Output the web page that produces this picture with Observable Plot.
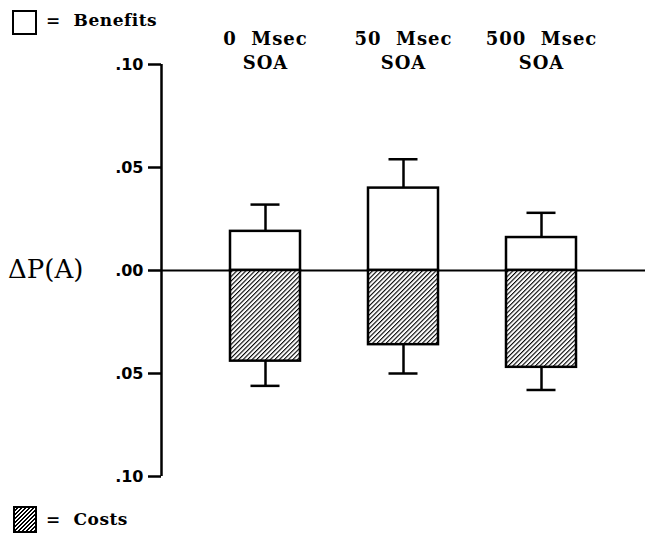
<!DOCTYPE html>
<html>
<head>
<meta charset="utf-8">
<script src="https://cdn.jsdelivr.net/npm/d3@7"></script>
<script src="https://cdn.jsdelivr.net/npm/@observablehq/plot@0.6"></script>
<style>
  html, body { margin: 0; padding: 0; background: #fff; }
  #wrap { position: relative; width: 645px; height: 539px; }
  .lg { position: absolute; font-family: "DejaVu Serif", serif; font-weight: bold; font-size: 17px; letter-spacing: 0.5px; color: #000; white-space: pre; }
  .box { position: absolute; border: 2.5px solid #000; background: #fff; box-sizing: border-box; }
  .hbox { background: repeating-linear-gradient(-45deg, #000 0 1.2px, #fff 1.2px 2.8px); }
  .ylab { position: absolute; font-family: "DejaVu Serif", serif; font-size: 26px; color: #000; }
  g[aria-label="text"] text { letter-spacing: 1px; }
</style>
</head>
<body>
<div id="wrap"></div>
<script>
const conditions = ["0 Msec", "50 Msec", "500 Msec"];
const benefits = [0.019, 0.040, 0.016];
const benefitErr = [0.032, 0.054, 0.028];
const costs = [0.044, 0.036, 0.047];
const costErr = [0.056, 0.050, 0.058];
const yTicks = [-0.10, -0.05, 0, 0.05, 0.10];

const data = conditions.map((c, i) => ({
  cond: c, ben: benefits[i], benErr: benefitErr[i], cost: -costs[i], costErr: -costErr[i]
}));

const fmt = d => (d === 0 ? ".00" : d3.format(".2f")(Math.abs(d)).replace(/^0/, ""));

const W = 645, ML = 161;
const plot = Plot.plot({
  width: W,
  height: 539,
  marginLeft: ML,
  marginRight: 0,
  marginTop: 64,
  marginBottom: 63,
  style: { background: "#fff", color: "#000" },
  x: { domain: conditions, padding: 0.49, axis: null },
  y: { domain: [-0.1, 0.1], ticks: yTicks, axis: null },
  marks: [
    Plot.axisY({ ticks: yTicks, tickFormat: fmt, tickSize: 13, tickPadding: 5,
      strokeWidth: 2.5, fontSize: 16, fontFamily: "DejaVu Sans", fontWeight: "bold" }),
    Plot.ruleX([0], { x: null, y1: -0.1, y2: 0.1, strokeWidth: 2.5, dx: ML - (ML + W) / 2 }),
    Plot.text(conditions, { x: d => d, text: d => d.replace(" ", "  ") + "\nSOA", frameAnchor: "top", dy: -36,
      lineHeight: 1.3, fontSize: 18, fontFamily: "DejaVu Serif", fontWeight: "bold", lineAnchor: "top" }),
    Plot.ruleX(data, { x: "cond", y1: "ben", y2: "benErr", strokeWidth: 2.5 }),
    Plot.tickY(data, { x: "cond", y: "benErr", strokeWidth: 2.5, insetLeft: 20.5, insetRight: 20.5 }),
    Plot.ruleX(data, { x: "cond", y1: "cost", y2: "costErr", strokeWidth: 2.5 }),
    Plot.tickY(data, { x: "cond", y: "costErr", strokeWidth: 2.5, insetLeft: 20.5, insetRight: 20.5 }),
    Plot.ruleY([0], { strokeWidth: 2 }),
    Plot.barY(data, { x: "cond", y1: 0, y2: "ben", fill: "white", stroke: "black", strokeWidth: 2.5 }),
    Plot.barY(data, { x: "cond", y1: 0, y2: "cost", fill: "url(#hatch)", stroke: "black", strokeWidth: 2.5 })
  ]
});

// hatch pattern definition
const svg = d3.select(plot);
const defs = svg.insert("defs", ":first-child");
const pat = defs.append("pattern").attr("id", "hatch").attr("patternUnits", "userSpaceOnUse")
  .attr("width", 3.2).attr("height", 3.2).attr("patternTransform", "rotate(45)");
pat.append("rect").attr("width", 3.2).attr("height", 3.2).attr("fill", "#fff");
pat.append("line").attr("x1", 0).attr("y1", 0).attr("x2", 0).attr("y2", 3.2)
  .attr("stroke", "#000").attr("stroke-width", 2.2);

const wrap = document.getElementById("wrap");
wrap.appendChild(plot);
plot.style.position = "absolute";
plot.style.left = "0px";
plot.style.top = "0px";

function add(text, cls, css) {
  const el = document.createElement("div");
  el.className = cls;
  if (text) el.textContent = text;
  Object.assign(el.style, css);
  wrap.appendChild(el);
}
add("", "box", { left: "12px", top: "10px", width: "25px", height: "25px" });
add("=  Benefits", "lg", { left: "46px", top: "10px" });
add("", "box hbox", { left: "13px", top: "506px", width: "24px", height: "27px" });
add("=  Costs", "lg", { left: "46px", top: "509px" });
add("ΔP(A)", "ylab", { left: "8px", top: "254px" });
</script>
</body>
</html>
